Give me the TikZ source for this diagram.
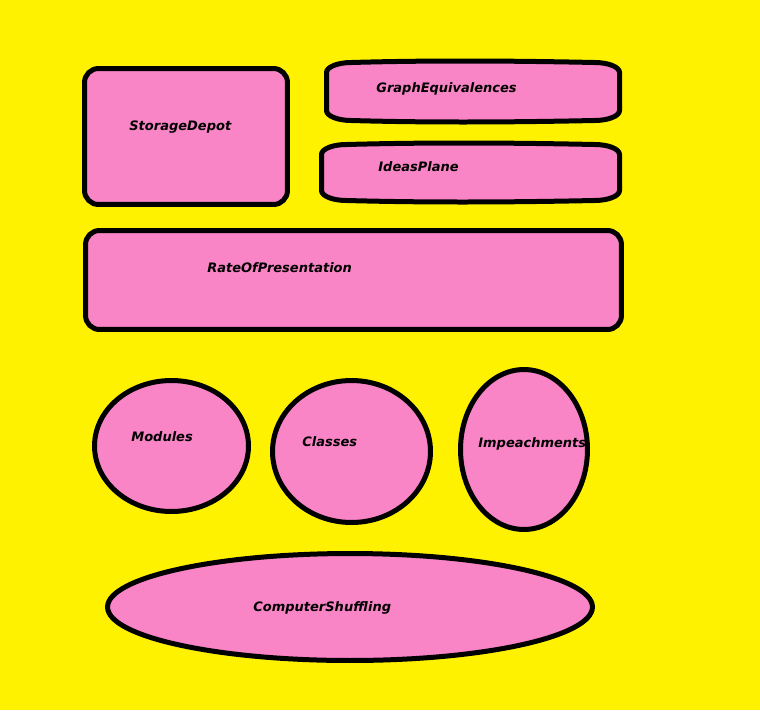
\documentclass[tikz,border=0pt]{standalone}
\usepackage{fontspec}
\usetikzlibrary{positioning, shapes.geometric}
\newfontfamily\boxfont{DejaVu Sans}
\definecolor{paintYellow}{HTML}{FFF200}
\definecolor{paintPink}{HTML}{F984C6}

\begin{document}
\begin{tikzpicture}[
    x=0.02cm, y=-0.02cm,
    blobBox/.style={draw=black, line width=0.1cm, rectangle, rounded corners=0.28cm, fill=paintPink, inner sep=0pt},
    blobOval/.style={draw=black, line width=0.1cm, ellipse, fill=paintPink, inner sep=0pt},
    blobPath/.style={draw=black, line width=0.1cm, fill=paintPink},
    blobText/.style={anchor=base west, inner sep=0pt, text=black, font=\boxfont\bfseries\itshape\fontsize{7.4}{9}\selectfont},
]
\fill[paintYellow] (0,0) rectangle (760,710);

% top row
\node[blobBox, minimum width=4.06cm, minimum height=2.72cm] (storageDepot) at (186,136.5) {};
\draw[blobPath] (326.5,72.5) arc[start angle=180, end angle=90, x radius=0.5cm, y radius=0.2cm]
    .. controls (420,60.5) and (500,60.5) .. (594.5,62.5)
    arc[start angle=90, end angle=0, x radius=0.5cm, y radius=0.2cm] -- (619.5,110.5)
    arc[start angle=0, end angle=-90, x radius=0.5cm, y radius=0.2cm]
    .. controls (500,122.5) and (420,122.5) .. (351.5,120.5)
    arc[start angle=270, end angle=180, x radius=0.5cm, y radius=0.2cm] -- cycle;
\draw[blobPath] (321.5,154.5) arc[start angle=180, end angle=90, x radius=0.5cm, y radius=0.2cm]
    .. controls (420,142.5) and (500,142.5) .. (594.5,144.5)
    arc[start angle=90, end angle=0, x radius=0.5cm, y radius=0.2cm] -- (619.5,190.5)
    arc[start angle=0, end angle=-90, x radius=0.5cm, y radius=0.2cm]
    .. controls (500,202.5) and (420,202.5) .. (346.5,200.5)
    arc[start angle=270, end angle=180, x radius=0.5cm, y radius=0.2cm] -- cycle;
\node[blobBox, minimum width=10.72cm, minimum height=1.98cm] (rateBox) at (353.5,280) {};

% ovals
\node[blobOval, minimum width=3.08cm, minimum height=2.62cm] (modules) at (171.5,446) {};
\node[blobOval, minimum width=3.16cm, minimum height=2.84cm] (classes) at (351.5,451.5) {};
\node[blobOval, minimum width=2.54cm, minimum height=3.2cm] (impeachments) at (524,449.5) {};
\node[blobOval, minimum width=9.7cm, minimum height=2.14cm] (shuffling) at (350,607) {};

% labels
\node[blobText] (storageLabel) at (129,130) {StorageDepot};
\node[blobText] (graphLabel) at (376,92) {GraphEquivalences};
\node[blobText] (ideasLabel) at (378,171) {IdeasPlane};
\node[blobText] (rateLabel) at (207,272) {RateOfPresentation};
\node[blobText] (modulesLabel) at (131,441) {Modules};
\node[blobText] (classesLabel) at (302,446) {Classes};
\node[blobText] (impeachLabel) at (478,447) {Impeachments};
\node[blobText] (shufflingLabel) at (253,611) {ComputerShuffling};
\end{tikzpicture}
\end{document}
